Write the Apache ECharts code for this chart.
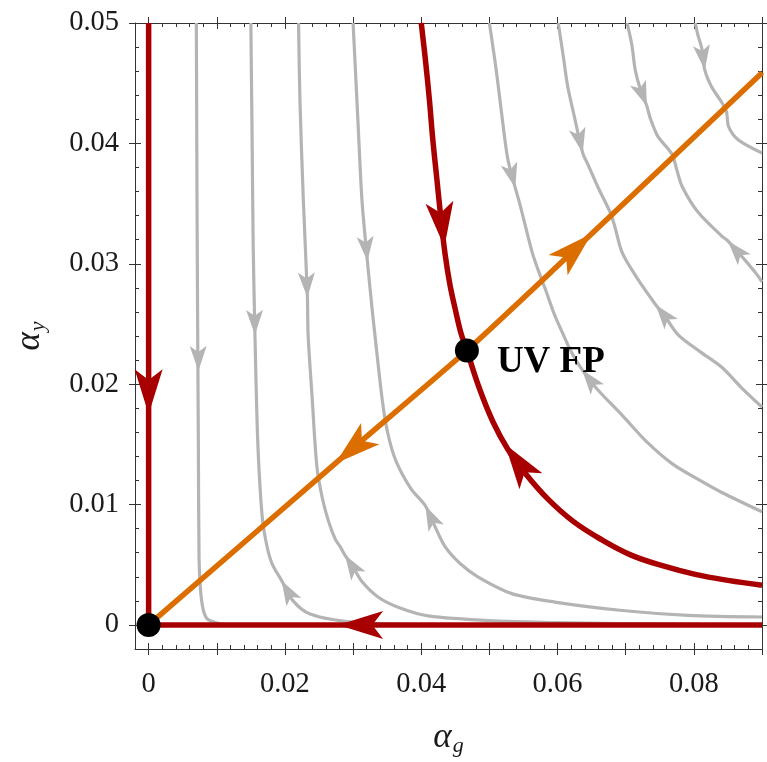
<!DOCTYPE html>
<html>
<head>
<meta charset="utf-8">
<script src="https://cdn.jsdelivr.net/npm/echarts@6/dist/echarts.min.js"></script>
<style>
  html, body { margin: 0; padding: 0; background: #fff; }
  #chart { width: 767px; height: 762px; }
</style>
</head>
<body>
<div id="chart"></div>
<script>
// axis ranges and ticks
var xMin = -0.002, xMax = 0.09;
var yMin = -0.002, yMax = 0.05;
var xLabelValues = [0, 0.02, 0.04, 0.06, 0.08];
var xMajorTicks = [0, 0.01, 0.02, 0.03, 0.04, 0.05, 0.06, 0.07, 0.08, 0.09];
var xMinorTicks = [0.002, 0.004, 0.006, 0.008, 0.012, 0.014, 0.016, 0.018, 0.022, 0.024, 0.026, 0.028,
  0.032, 0.034, 0.036, 0.038, 0.042, 0.044, 0.046, 0.048, 0.052, 0.054, 0.056, 0.058,
  0.062, 0.064, 0.066, 0.068, 0.072, 0.074, 0.076, 0.078, 0.082, 0.084, 0.086, 0.088];
var yLabelValues = [0, 0.01, 0.02, 0.03, 0.04, 0.05];
var yMajorTicks = [0, 0.01, 0.02, 0.03, 0.04, 0.05];
var yMinorTicks = [0.002, 0.004, 0.006, 0.008, 0.012, 0.014, 0.016, 0.018, 0.022, 0.024, 0.026, 0.028,
  0.032, 0.034, 0.036, 0.038, 0.042, 0.044, 0.046, 0.048];

// gray stream lines (alpha_g, alpha_y)
var gray1 = [[0.0070, 0.05], [0.0071, 0.0353], [0.0072, 0.0241], [0.0073, 0.0146], [0.0074, 0.0055],
  [0.0076, 0.0030], [0.0080, 0.0013], [0.0086, 0.0005], [0.0098, 0.0002], [0.0113, 0.0000]];
var gray2 = [[0.0150, 0.05], [0.0152, 0.0395], [0.01535, 0.0312], [0.0156, 0.0241], [0.0159, 0.0171],
  [0.0162, 0.0129], [0.0167, 0.0088], [0.0173, 0.0067], [0.0181, 0.0051], [0.0195, 0.0037],
  [0.0212, 0.0020], [0.0237, 0.0009], [0.0288, 0.0003], [0.0369, 0.00004], [0.0442, 0.0]];
var gray3 = [[0.0220, 0.05], [0.0222, 0.0436], [0.0227, 0.0353], [0.0233, 0.0272], [0.0234, 0.0241],
  [0.0240, 0.0188], [0.0247, 0.0131], [0.0255, 0.0105], [0.0264, 0.0086], [0.0274, 0.0071],
  [0.0281, 0.0065], [0.0288, 0.0058], [0.0299, 0.0049], [0.0313, 0.0036], [0.0337, 0.0023],
  [0.0369, 0.0014], [0.0410, 0.00075], [0.0508, 0.00033], [0.0596, 0.0002], [0.0692, 0.00012], [0.0809, 0.00004]];
var gray4 = [[0.0300, 0.05], [0.0307, 0.0420], [0.0313, 0.0353], [0.0321, 0.0302], [0.0328, 0.0262],
  [0.0332, 0.0241], [0.0343, 0.0186], [0.0351, 0.0159], [0.0363, 0.0136], [0.0385, 0.0113],
  [0.0406, 0.0099], [0.0420, 0.0082], [0.0435, 0.0065], [0.0457, 0.0051], [0.0483, 0.0040],
  [0.0533, 0.0026], [0.0596, 0.0019], [0.0695, 0.0012], [0.0791, 0.0008], [0.09, 0.00066]];
var gray5 = [[0.0500, 0.05], [0.0510, 0.0461], [0.0519, 0.0420], [0.0527, 0.0387], [0.0538, 0.0363],
  [0.0545, 0.0349], [0.0563, 0.0309], [0.0574, 0.0291], [0.0582, 0.0279], [0.0596, 0.0257],
  [0.0607, 0.0243], [0.0620, 0.0227], [0.0636, 0.0212], [0.0658, 0.0196], [0.0695, 0.0174],
  [0.0731, 0.0152], [0.0768, 0.0134], [0.0809, 0.0120], [0.0841, 0.0110], [0.09, 0.0094]];
var gray6 = [[0.0601, 0.05], [0.0608, 0.0474], [0.0615, 0.0447], [0.0624, 0.0424], [0.0637, 0.0392],
  [0.0645, 0.0382], [0.0659, 0.0364], [0.0677, 0.0343], [0.0684, 0.0331], [0.0695, 0.0309],
  [0.0718, 0.0287], [0.0744, 0.0266], [0.0758, 0.0256], [0.0777, 0.0241], [0.0809, 0.0227],
  [0.0841, 0.0214], [0.0870, 0.0197], [0.09, 0.0181]];
var gray7 = [[0.0702, 0.05], [0.0709, 0.0482], [0.0714, 0.0461], [0.0721, 0.0446], [0.0731, 0.0431],
  [0.0736, 0.0421], [0.0747, 0.0406], [0.0768, 0.0391], [0.0775, 0.0378], [0.0783, 0.0364],
  [0.0806, 0.0343], [0.0841, 0.0323], [0.0850, 0.0319], [0.0890, 0.0293], [0.09, 0.0285]];
var gray8 = [[0.0802, 0.05], [0.0806, 0.0490], [0.0812, 0.0478], [0.0816, 0.0461], [0.0826, 0.0447],
  [0.0841, 0.0434], [0.0848, 0.0426], [0.0851, 0.0414], [0.0865, 0.0403], [0.09, 0.0392]];
var grayLines = [gray1, gray2, gray3, gray4, gray5, gray6, gray7, gray8];

// red separatrices
var redCurve = [[0.0400, 0.05], [0.0406, 0.0470], [0.0412, 0.0436], [0.0417, 0.0403], [0.0423, 0.0370],
  [0.0429, 0.0337], [0.0435, 0.0308], [0.0442, 0.0283], [0.0450, 0.0262], [0.0458, 0.0243],
  [0.0467, 0.0228], [0.0485, 0.0197], [0.0505, 0.0169], [0.0527, 0.0146], [0.0554, 0.0125],
  [0.0586, 0.01045], [0.0623, 0.0086], [0.0664, 0.0071], [0.0708, 0.0058], [0.0755, 0.0049],
  [0.0802, 0.0042], [0.0850, 0.0037], [0.09, 0.0033]];
var redAxisY = [[0, 0], [0, 0.05]];
var redAxisX = [[0, 0], [0.09, 0]];

// orange separatrix through the UV fixed point
var orangeLine = [[0, 0], [0.0288, 0.0141], [0.0467, 0.0228], [0.0596, 0.0296], [0.0897, 0.0457], [0.09, 0.0459]];

// fixed points
var fixedPoints = [[0, 0], [0.0467, 0.0228]];
var fixedLabels = ['', 'UV FP'];

// arrows: [tipX, tipY, tailX, tailY]
var redArrows = [[0, 0.0175, 0, 0.03], [0.0278, 0, 0.04, 0],
  [0.0434, 0.0314, 0.0423, 0.0370], [0.0523, 0.0150, 0.0554, 0.0125]];
var orangeArrows = [[0.0274, 0.0134, 0.0467, 0.0228], [0.0650, 0.0325, 0.0467, 0.0228]];
var grayArrows = [[0.0073, 0.0211, 0.0071, 0.0353], [0.0156, 0.0241, 0.0152, 0.0395],
  [0.0233, 0.0272, 0.0227, 0.0353], [0.0321, 0.0302, 0.0313, 0.0353],
  [0.0538, 0.0363, 0.0527, 0.0387], [0.0637, 0.0392, 0.0624, 0.0424],
  [0.0731, 0.0431, 0.0721, 0.0446], [0.0816, 0.0461, 0.0812, 0.0478],
  [0.0195, 0.0037, 0.0212, 0.0020], [0.0288, 0.0058, 0.0313, 0.0036],
  [0.0406, 0.0099, 0.0435, 0.0065], [0.0636, 0.0212, 0.0658, 0.0196],
  [0.0744, 0.0266, 0.0758, 0.0256], [0.0850, 0.0319, 0.0890, 0.0293]];

var RED = '#a80000', ORANGE = '#dc6e00', GRAY = '#b4b4b4';
var FRAME = '#333';
var labelFont = { fontFamily: 'Liberation Serif', fontSize: 28.5, color: '#1a1a1a' };

function tickAxis(dim, pos, ticks, inside, len, withLine, labels) {
  var ax = {
    type: 'value',
    position: pos,
    min: dim === 'x' ? xMin : yMin,
    max: dim === 'x' ? xMax : yMax,
    gridIndex: 0,
    splitLine: { show: false },
    axisLine: { show: withLine, onZero: false, lineStyle: { color: FRAME, width: 1 } },
    axisTick: { show: true, inside: inside, length: len, customValues: ticks, lineStyle: { color: FRAME, width: 1 } },
    axisLabel: { show: false }
  };
  if (labels) {
    ax.axisLabel = Object.assign({ show: true, customValues: labels, margin: dim === 'x' ? 21 : 16,
      formatter: function (v) { return String(v); } }, labelFont);
  }
  return ax;
}

var xAxes = [
  tickAxis('x', 'bottom', xMajorTicks, true, 6, true, xLabelValues),
  tickAxis('x', 'bottom', xMajorTicks, false, 6, false),
  tickAxis('x', 'bottom', xMinorTicks, true, 4, false),
  tickAxis('x', 'top', xMajorTicks, true, 6, true),
  tickAxis('x', 'top', xMajorTicks, false, 6, false),
  tickAxis('x', 'top', xMinorTicks, true, 4, false)
];
var yAxes = [
  tickAxis('y', 'left', yMajorTicks, true, 6, true, yLabelValues),
  tickAxis('y', 'left', yMajorTicks, false, 6, false),
  tickAxis('y', 'left', yMinorTicks, true, 4, false),
  tickAxis('y', 'right', yMajorTicks, true, 6, true),
  tickAxis('y', 'right', yMajorTicks, false, 6, false),
  tickAxis('y', 'right', yMinorTicks, true, 4, false)
];

var nameRich = {
  a: { fontFamily: 'Liberation Serif', fontStyle: 'italic', fontSize: 35, color: '#1a1a1a' },
  s: { fontFamily: 'Liberation Serif', fontStyle: 'italic', fontSize: 22, color: '#1a1a1a', padding: [16, 0, 0, 1] }
};
Object.assign(xAxes[0], { name: '{a|α}{s|g}', nameLocation: 'middle', nameGap: 70, nameTextStyle: { rich: nameRich } });
Object.assign(yAxes[0], { name: '{a|α}{s|y}', nameLocation: 'middle', nameGap: 86, nameRotate: 90, nameTextStyle: { rich: nameRich } });

function lineSeries(data, color, width, z, smooth) {
  return {
    type: 'line', data: data, showSymbol: false, symbol: 'none', smooth: smooth, z: z,
    xAxisIndex: 0, yAxisIndex: 0,
    lineStyle: { color: color, width: width, cap: 'butt', join: 'round' },
    emphasis: { disabled: true }
  };
}

function arrowSeries(data, color, len, wid, z) {
  return {
    type: 'custom', data: data, z: z, xAxisIndex: 0, yAxisIndex: 0,
    encode: { x: [0, 2], y: [1, 3] },
    renderItem: function (params, api) {
      var tip = api.coord([api.value(0), api.value(1)]);
      var tail = api.coord([api.value(2), api.value(3)]);
      var dx = tip[0] - tail[0], dy = tip[1] - tail[1];
      var d = Math.sqrt(dx * dx + dy * dy);
      var ux = dx / d, uy = dy / d, nx = -uy, ny = ux;
      var bx = tip[0] - ux * len, by = tip[1] - uy * len;
      var mx = tip[0] - ux * len * 0.76, my = tip[1] - uy * len * 0.76;
      return {
        type: 'polygon',
        shape: { points: [tip, [bx + nx * wid / 2, by + ny * wid / 2], [mx, my], [bx - nx * wid / 2, by - ny * wid / 2]] },
        style: { fill: color }
      };
    }
  };
}

var series = [];
grayLines.forEach(function (g) { series.push(lineSeries(g, GRAY, 3.2, 2, 0.3)); });
series.push(lineSeries(redCurve, RED, 5.5, 3, 0.4));
series.push(lineSeries(redAxisY, RED, 5.5, 3, false));
series.push(lineSeries(redAxisX, RED, 5.5, 3, false));
series.push(lineSeries(orangeLine, ORANGE, 5.5, 4, 0.2));
series.push(arrowSeries(grayArrows, GRAY, 25, 17, 5));
series.push(arrowSeries(redArrows, RED, 45, 28, 6));
series.push(arrowSeries(orangeArrows, ORANGE, 46, 28, 6));
series.push({
  type: 'scatter', data: fixedPoints, symbolSize: 24, z: 7, xAxisIndex: 0, yAxisIndex: 0,
  itemStyle: { color: '#000', opacity: 1 },
  label: {
    show: true, position: 'right', distance: 18, offset: [0, 12],
    formatter: function (p) { return fixedLabels[p.dataIndex]; },
    fontFamily: 'Liberation Serif', fontWeight: 'bold', fontSize: 37, color: '#000', opacity: 1
  },
  emphasis: { disabled: true }
});

var chart = echarts.init(document.getElementById('chart'), null, { renderer: 'canvas' });
chart.setOption({
  animation: false,
  backgroundColor: '#fff',
  grid: { left: 135, right: 5, top: 23, bottom: 112 },
  xAxis: xAxes,
  yAxis: yAxes,
  series: series
});
</script>
</body>
</html>
